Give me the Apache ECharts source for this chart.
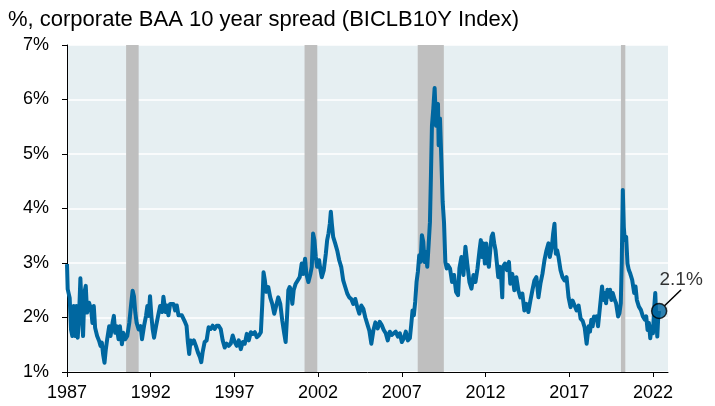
<!DOCTYPE html>
<html>
<head>
<meta charset="utf-8">
<script src="https://cdn.jsdelivr.net/npm/echarts@6/dist/echarts.min.js"></script>
<style>
html,body{margin:0;padding:0;background:#fff;}
#chart{width:715px;height:406px;}
</style>
</head>
<body>
<div id="chart"></div>
<script>
const subtitle = '%, corporate BAA 10 year spread (BICLB10Y Index)';
const yearTicks = [1987, 1992, 1997, 2002, 2007, 2012, 2017, 2022];
const pctTicks = [1, 2, 3, 4, 5, 6, 7];
const recessions = [[1990.53, 1991.28], [2001.19, 2001.95], [2007.95, 2009.51], [2020.09, 2020.35]];
const endLabel = '2.1%';

const dates = [
1987.00,1987.04,1987.16,1987.24,1987.32,1987.40,1987.48,1987.56,1987.64,1987.72,1987.80,1987.88,1987.96,
1988.04,1988.12,1988.20,1988.32,1988.44,1988.52,1988.60,1988.68,1988.80,1988.92,
1989.00,1989.08,1989.16,1989.24,1989.32,1989.40,1989.52,1989.60,1989.72,1989.80,1989.88,1989.96,
1990.08,1990.16,1990.28,1990.36,1990.48,1990.60,1990.72,1990.84,1990.92,
1991.00,1991.08,1991.16,1991.28,1991.40,1991.48,1991.60,1991.72,1991.80,1991.88,1991.96,
1992.04,1992.12,1992.20,1992.32,1992.44,1992.56,1992.68,1992.76,1992.88,1992.96,
1993.06,1993.16,1993.26,1993.36,1993.46,1993.56,1993.66,1993.76,1993.86,1993.96,
1994.06,1994.14,1994.22,1994.30,1994.38,1994.46,1994.58,1994.70,1994.82,1994.94,
1995.02,1995.10,1995.22,1995.34,1995.46,1995.58,1995.70,1995.82,1995.94,
1996.06,1996.18,1996.30,1996.42,1996.54,1996.66,1996.78,1996.90,
1997.02,1997.14,1997.26,1997.38,1997.50,1997.62,1997.74,1997.86,1997.98,
1998.10,1998.22,1998.34,1998.46,1998.58,1998.66,1998.74,1998.82,1998.90,
1999.02,1999.14,1999.26,1999.38,1999.50,1999.62,1999.74,1999.86,1999.98,
2000.06,2000.14,2000.22,2000.30,2000.38,2000.46,2000.54,2000.66,2000.78,2000.90,
2001.02,2001.10,2001.22,2001.30,2001.42,2001.54,2001.62,2001.70,2001.78,2001.86,2001.94,
2002.06,2002.14,2002.22,2002.34,2002.46,2002.54,2002.62,2002.70,2002.76,2002.82,2002.90,
2003.02,2003.14,2003.26,2003.38,2003.50,2003.62,2003.74,2003.86,2003.98,
2004.10,2004.22,2004.34,2004.46,2004.58,2004.70,2004.82,2004.94,
2005.06,2005.18,2005.30,2005.42,2005.56,2005.68,2005.80,2005.92,
2006.04,2006.16,2006.28,2006.40,2006.52,2006.64,2006.76,2006.88,
2007.00,2007.12,2007.24,2007.36,2007.48,2007.56,2007.64,2007.72,2007.80,2007.88,2007.96,
2008.04,2008.12,2008.20,2008.28,2008.36,2008.44,2008.52,2008.60,2008.68,2008.74,2008.80,2008.88,2008.96,
2009.00,2009.04,2009.08,2009.16,2009.20,2009.28,2009.36,2009.44,2009.52,2009.60,2009.68,2009.76,2009.88,
2010.00,2010.12,2010.24,2010.36,2010.44,2010.56,2010.68,2010.80,2010.92,
2011.04,2011.16,2011.28,2011.40,2011.52,2011.64,2011.72,2011.80,2011.88,2011.96,
2012.04,2012.12,2012.20,2012.28,2012.36,2012.44,2012.52,2012.60,2012.68,2012.76,2012.84,2012.92,
2013.00,2013.04,2013.16,2013.28,2013.40,2013.48,2013.60,2013.72,2013.84,2013.96,
2014.08,2014.20,2014.32,2014.44,2014.56,2014.68,2014.80,2014.92,
2015.04,2015.16,2015.28,2015.40,2015.52,2015.64,2015.76,2015.84,2015.96,
2016.04,2016.12,2016.20,2016.28,2016.36,2016.48,2016.60,2016.72,2016.84,2016.96,
2017.08,2017.20,2017.32,2017.44,2017.56,2017.68,2017.80,2017.92,
2018.04,2018.16,2018.24,2018.32,2018.40,2018.48,2018.56,2018.64,2018.72,2018.80,2018.88,2018.96,
2019.04,2019.12,2019.20,2019.28,2019.36,2019.44,2019.52,2019.60,2019.72,2019.80,2019.92,
2020.00,2020.08,2020.14,2020.20,2020.26,2020.32,2020.40,2020.48,2020.56,2020.64,2020.76,2020.88,2020.96,
2021.04,2021.16,2021.28,2021.40,2021.52,2021.60,2021.68,2021.76,2021.84,2021.92,
2022.00,2022.08,2022.14,2022.20,2022.26,2022.32,2022.37
];

const spread = [
2.98,2.52,2.36,1.78,1.66,2.21,1.66,2.21,1.63,2.03,2.72,2.15,1.66,
2.46,2.58,2.09,2.27,2.15,1.90,2.21,1.81,1.66,1.57,
1.48,1.54,1.32,1.17,1.42,1.60,1.84,1.66,1.90,2.03,1.72,1.84,
1.60,1.84,1.51,1.72,1.60,1.66,1.90,2.27,2.49,
2.39,2.09,1.90,1.78,1.84,1.60,1.84,2.03,2.21,2.03,2.39,
2.03,1.78,1.63,1.84,2.03,2.21,2.10,2.38,2.10,2.22,
2.04,2.25,2.22,2.25,2.13,2.22,2.04,2.07,2.04,2.04,
1.91,1.85,1.55,1.33,1.58,1.52,1.58,1.48,1.36,1.27,
1.18,1.36,1.55,1.58,1.82,1.79,1.85,1.79,1.85,
1.85,1.79,1.58,1.45,1.52,1.48,1.52,1.67,
1.55,1.48,1.58,1.42,1.55,1.52,1.70,1.58,1.73,
1.70,1.73,1.64,1.67,1.73,2.22,2.83,2.68,2.47,
2.56,2.37,2.25,2.07,2.22,2.37,2.25,1.94,1.70,
1.55,2.00,2.50,2.56,2.50,2.25,2.50,2.62,2.68,2.74,
2.99,2.80,3.08,2.80,2.65,2.80,2.93,3.54,3.42,3.11,2.93,
3.05,2.87,2.74,2.87,3.17,3.42,3.54,3.72,3.94,3.72,3.48,
3.36,3.23,3.05,2.93,2.68,2.56,2.44,2.37,2.34,
2.25,2.34,2.19,2.07,2.22,2.16,2.00,1.88,
1.76,1.52,1.76,1.91,1.80,1.92,1.86,1.77,
1.71,1.58,1.74,1.68,1.71,1.74,1.65,1.71,
1.55,1.62,1.74,1.58,1.62,1.86,2.13,2.04,2.29,2.65,2.84,
3.14,3.02,3.51,3.39,3.02,3.20,2.93,3.33,3.75,4.61,5.52,5.83,6.21,
5.89,5.52,5.83,5.92,5.16,5.65,4.91,4.12,3.75,3.02,2.90,2.96,2.90,
2.65,2.78,2.47,2.41,2.90,3.11,2.78,3.30,2.96,
2.65,2.53,2.78,2.65,2.90,3.23,3.42,3.11,3.36,2.99,
3.36,3.05,2.93,3.23,3.48,3.54,3.36,3.23,2.99,2.74,2.93,2.80,
2.37,2.93,2.99,2.87,3.02,2.62,2.80,2.50,2.74,2.50,
2.37,2.44,2.13,2.25,2.10,2.31,2.50,2.68,
2.74,2.37,2.62,2.80,3.05,3.23,3.36,3.11,3.29,
3.54,3.72,3.17,3.23,3.11,2.87,2.74,2.68,2.74,2.37,
2.19,2.31,2.22,2.13,2.22,1.98,1.94,1.82,
1.52,1.84,1.74,1.96,1.84,2.02,1.96,2.02,1.84,2.08,2.32,2.57,
2.32,2.45,2.26,2.51,2.38,2.51,2.32,2.45,2.32,2.26,2.02,
2.08,2.26,3.05,4.34,3.66,3.42,3.48,2.99,2.87,2.81,2.69,2.45,2.57,
2.32,2.20,2.14,2.02,1.96,2.02,1.77,1.90,1.62,1.84,
1.71,2.20,2.45,1.96,1.65,2.02,2.12
];

const lineColor = '#0067a0';
const seriesData = dates.map((d, i) => [d, spread[i]]);
const last = seriesData[seriesData.length - 1];

const chart = echarts.init(document.getElementById('chart'), null, {renderer: 'canvas'});
const font = 'Arial, "Liberation Sans", sans-serif';

chart.setOption({
  animation: false,
  backgroundColor: '#ffffff',
  graphic: [{
    type: 'text', left: 8, top: 9,
    style: {text: subtitle, font: '22px ' + font, fill: '#000'}
  }],
  grid: {
    left: 67, right: 47, top: 45, bottom: 34,
    show: true, backgroundColor: '#e6eff2', borderWidth: 0
  },
  xAxis: {
    type: 'value', min: yearTicks[0], max: 2022.9, interval: 5,
    axisLine: {show: true, onZero: false, lineStyle: {color: '#000', width: 1}},
    axisTick: {show: true, length: 5, lineStyle: {color: '#000'}, customValues: yearTicks},
    axisLabel: {color: '#000', fontSize: 18, fontFamily: font, margin: 12, customValues: yearTicks,
      formatter: v => String(v)},
    splitLine: {show: false}
  },
  yAxis: {
    type: 'value', min: pctTicks[0], max: pctTicks[pctTicks.length - 1], interval: 1,
    axisLine: {show: true, lineStyle: {color: '#000', width: 1}},
    axisTick: {show: true, length: 5, lineStyle: {color: '#000'}},
    axisLabel: {color: '#000', fontSize: 18, fontFamily: font, margin: 18, formatter: '{value}%'},
    splitLine: {show: true, lineStyle: {color: '#ffffff', width: 1.5}}
  },
  series: [
    {
      type: 'line', data: [], silent: true, z: 1,
      markArea: {
        silent: true,
        itemStyle: {color: '#bfbfbf'},
        data: recessions.map(r => [{xAxis: r[0]}, {xAxis: r[1]}])
      }
    },
    {
      type: 'line', data: seriesData, showSymbol: false, z: 3,
      lineStyle: {color: lineColor, width: 4, join: 'round'},
      itemStyle: {color: lineColor}
    },
    {
      type: 'scatter', data: [last], z: 5,
      symbol: 'circle', symbolSize: 15,
      itemStyle: {color: lineColor, borderColor: '#000', borderWidth: 1.5},
      label: {show: true, position: 'top', formatter: endLabel, color: '#000',
        fontSize: 19, fontFamily: font, distance: 5},
      labelLayout: {dx: 22, dy: -8},
      labelLine: {show: true, lineStyle: {color: '#000', width: 1.5}}
    }
  ]
});
</script>
</body>
</html>
